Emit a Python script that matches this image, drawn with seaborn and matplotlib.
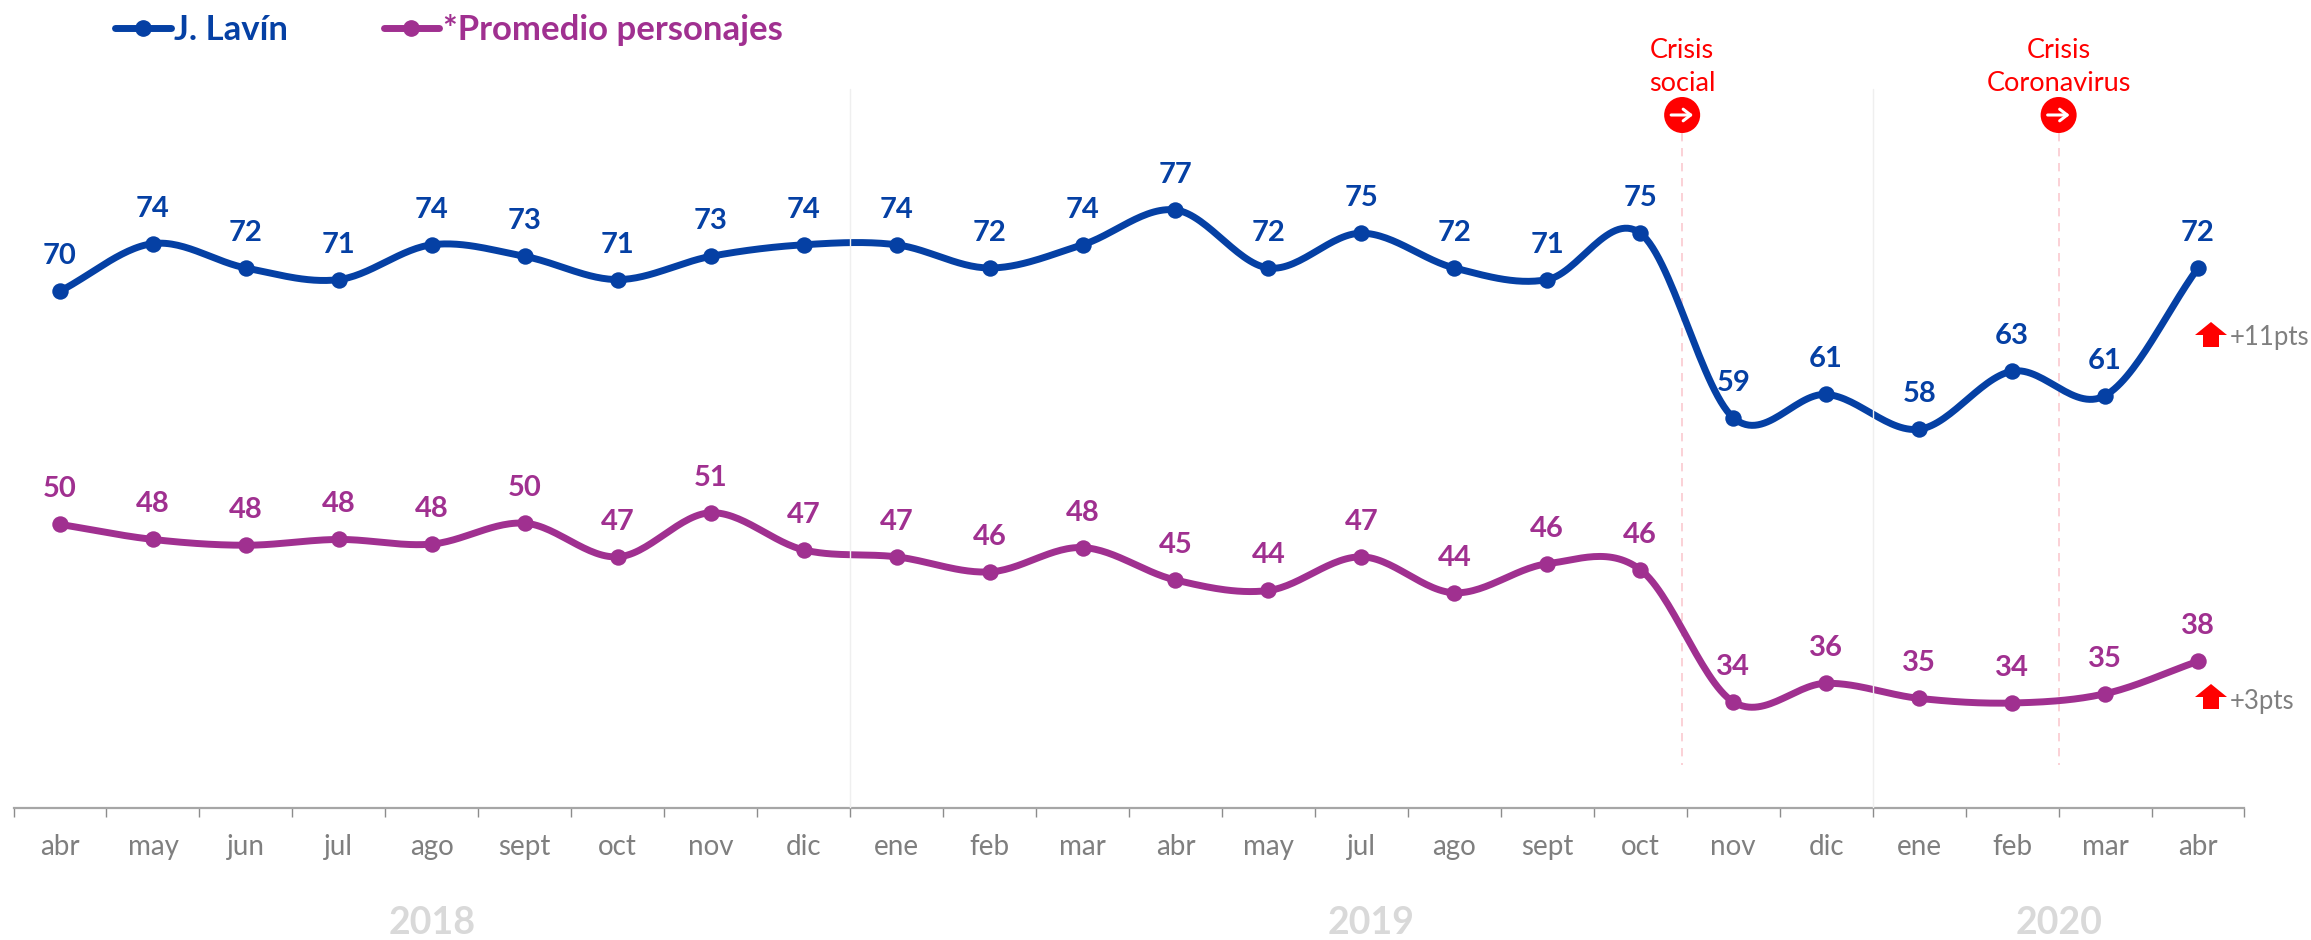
import matplotlib
matplotlib.use('Agg')
import matplotlib.pyplot as plt
import numpy as np
import seaborn as sns
from matplotlib.lines import Line2D
from matplotlib.patches import Circle, FancyArrow
from matplotlib.transforms import Affine2D

months = ['abr', 'may', 'jun', 'jul', 'ago', 'sept', 'oct', 'nov', 'dic',
          'ene', 'feb', 'mar', 'abr', 'may', 'jul', 'ago', 'sept', 'oct',
          'nov', 'dic', 'ene', 'feb', 'mar', 'abr']
lavin = [70, 74.1, 72, 71, 74, 73, 71, 73, 74, 74, 72, 74, 77, 72, 75, 72, 71, 75,
         59.1, 61.1, 58.1, 63.1, 61, 72]
promedio = [49.9, 48.6, 48.1, 48.6, 48.2, 50, 47.1, 50.9, 47.7, 47.1, 45.8, 47.9,
            45.1, 44.2, 47.1, 44, 46.5, 46, 34.6, 36.2, 34.9, 34.5, 35.3, 38.1]
lavin_labels = [70, 74, 72, 71, 74, 73, 71, 73, 74, 74, 72, 74, 77, 72, 75, 72, 71, 75,
                59, 61, 58, 63, 61, 72]
promedio_labels = [50, 48, 48, 48, 48, 50, 47, 51, 47, 47, 46, 48,
                   45, 44, 47, 44, 46, 46, 34, 36, 35, 34, 35, 38]
years = ['2018', '2019', '2020']
year_pos = [4.0, 14.1, 21.5]

BLUE = '#0540A4'
PURPLE = '#A03090'
RED = '#FF0000'
FONT = 'Lato'
W, H = 2311, 940


def smooth(values, steps=30):
    """Spline through the points, like a smoothed line in a spreadsheet."""
    y = np.asarray(values, dtype=float)
    m = np.gradient(y)
    xs, ys = [], []
    for i in range(len(y) - 1):
        t = np.linspace(0, 1, steps, endpoint=False)
        ys.append((2 * t**3 - 3 * t**2 + 1) * y[i] + (t**3 - 2 * t**2 + t) * m[i]
                  + (-2 * t**3 + 3 * t**2) * y[i + 1] + (t**3 - t**2) * m[i + 1])
        xs.append(i + t)
    xs.append([len(y) - 1])
    ys.append([y[-1]])
    return np.concatenate(xs), np.concatenate(ys)


sns.set_theme(style='white')
plt.rcParams['font.family'] = [FONT, 'DejaVu Sans']

fig = plt.figure(figsize=(W / 100, H / 100), dpi=100)
ax = fig.add_axes([13.5 / W, (H - 808) / H, 2231 / W, 808 / H])
# pixel coordinates from the top left, for the notes around the chart
px = Affine2D().scale(1, -1).translate(0, H)
xpos = np.arange(len(months))

for series, labels, color in [(lavin, lavin_labels, BLUE),
                              (promedio, promedio_labels, PURPLE)]:
    xs, ys = smooth(series)
    sns.lineplot(x=xs, y=ys, color=color, linewidth=5, sort=False,
                 estimator=None, ax=ax, zorder=3)
    sns.scatterplot(x=xpos, y=series, color=color, s=140, linewidth=0, ax=ax,
                    zorder=4, clip_on=False)
    for x, y, lab in zip(xpos, series, labels):
        ax.annotate(str(lab), (x, y), xytext=(0, 25.2), textcoords='offset points',
                    ha='center', va='center', color=color, fontsize=21,
                    fontweight='bold', zorder=6)

ax.set_xlim(-0.5, 23.5)
ax.set_ylim(25.45, 95.1)
ax.set_yticks([])
ax.set_xticks(np.arange(-0.5, 24, 1), labels=[''] * 25)
ax.set_xticks(xpos, labels=months, minor=True)
ax.tick_params(axis='x', which='major', bottom=True, length=6.5, width=1, color='#8C8C8C')
ax.tick_params(axis='x', which='minor', bottom=False, length=0, pad=19,
               labelsize=20, labelcolor='#7F7F7F')
sns.despine(ax=ax, left=True)
ax.spines['bottom'].set_color('#A6A6A6')
ax.spines['bottom'].set_linewidth(1.6)

# year separators, faint, over the curves
for x in [8.5, 19.5]:
    ax.plot([x, x], [25.45, 87.4], color='#EFEFEF', lw=1, zorder=5)

# crisis markers
for x, lines in [(17.45, 'Crisis\nsocial'), (21.5, 'Crisis\nCoronavirus')]:
    cx = 60 + x * 92.96
    ax.plot([cx, cx], [133, 765], transform=px, color='#FBC9CF', lw=1.2,
            ls=(0, (5, 4)), zorder=1)
    ax.add_patch(Circle((cx, 115), 18, transform=px, color=RED, lw=0, clip_on=False, zorder=6))
    ax.annotate('', xy=(cx + 11, 115), xytext=(cx - 11, 115), xycoords=px, textcoords=px,
                arrowprops=dict(arrowstyle='->,head_length=0.45,head_width=0.35', color='white',
                                lw=2.2, shrinkA=0, shrinkB=0), zorder=7,
                annotation_clip=False)
    fig.text(cx, 67, lines, transform=px, ha='center', va='center', color=RED,
             fontsize=19.5, linespacing=1.4)

# change notes
for top, text_x, text_y, note in [(322, 2230, 338, '+11pts'), (684, 2230, 701, '+3pts')]:
    fig.add_artist(FancyArrow(2211, top + 25, 0, -25, width=16, head_width=32, head_length=13,
                              length_includes_head=True, transform=px, color=RED, lw=0))
    fig.text(text_x, text_y, note, transform=px, ha='left', va='center', color='#7F7F7F',
             fontsize=18.5)

for year, x in zip(years, year_pos):
    fig.text(60 + x * 92.96, 923, year, transform=px, ha='center', va='center',
             color='#D9D9D9', fontsize=27, fontweight='bold')

handles = [Line2D([], [], color=BLUE, lw=5, marker='o', ms=11, label='J. Lavín'),
           Line2D([], [], color=PURPLE, lw=5, marker='o', ms=11, label='*Promedio personajes')]
fig.legend(handles=handles, loc='center left', bbox_to_anchor=(115 / W, 1 - 30 / H), ncol=2,
           frameon=False, labelcolor='linecolor', handlelength=1.6, handletextpad=0.1,
           columnspacing=2.75, borderpad=0, borderaxespad=0,
           prop={'family': FONT, 'weight': 'bold', 'size': 25})

fig.savefig('out.png', dpi=100)
